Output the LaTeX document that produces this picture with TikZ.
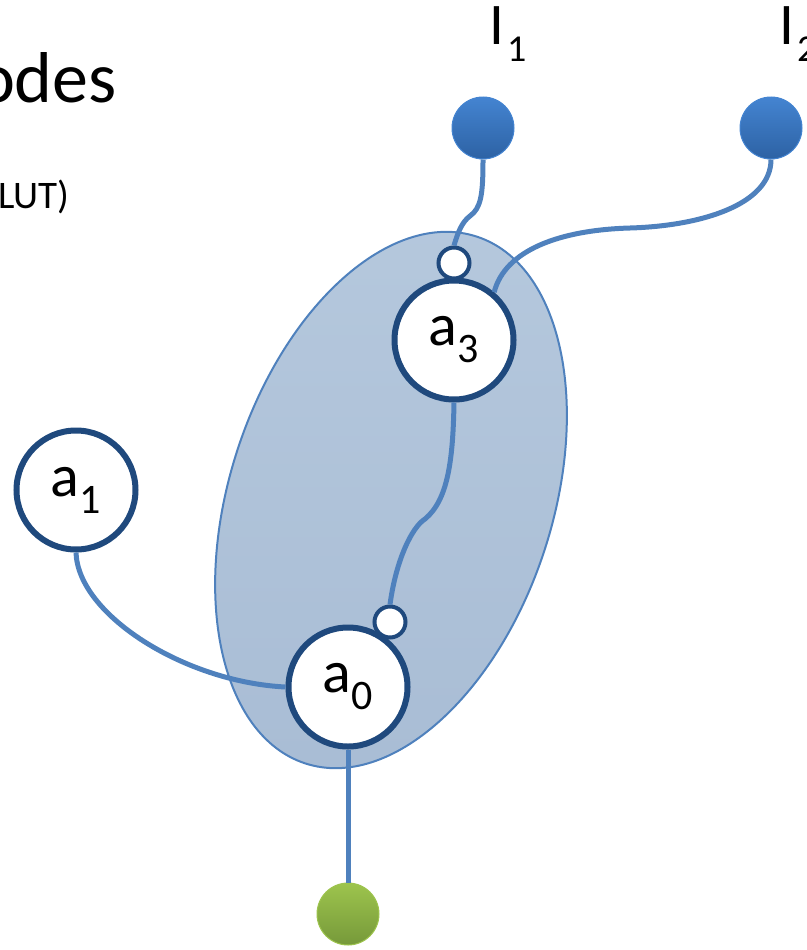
\documentclass[tikz,border=0pt]{standalone}
\usepackage{fontspec}
\setmainfont{Carlito}
\usetikzlibrary{shapes.geometric}

\definecolor{wirecol}{HTML}{4F81BD}
\definecolor{navy}{HTML}{1F497D}
\definecolor{lutfill}{HTML}{B5C8DD}
\definecolor{lutdark}{HTML}{A9BDD5}
\definecolor{intop}{HTML}{4484D1}
\definecolor{inbot}{HTML}{2D62A4}
\definecolor{outtop}{HTML}{9DC44D}
\definecolor{outbot}{HTML}{76993A}

\newcommand{\nodelabel}[3]{#1\raisebox{-17pt}{\fontsize{#3}{#3}\selectfont #2}}

\begin{document}
\begin{tikzpicture}[x=1pt,y=-1pt]
      \tikzstyle{gate} = [draw=navy,line width=6pt,circle,fill=white,inner sep=0pt,minimum size=119pt,font=\fontsize{60}{60}\selectfont]
      \tikzstyle{port} = [draw=navy,line width=4pt,circle,fill=white,inner sep=0pt,minimum size=31pt]
      \tikzstyle{input} = [circle,inner sep=0pt,minimum size=62pt,draw=intop,line width=1pt,top color=intop,bottom color=inbot]
      \tikzstyle{output} = [circle,inner sep=0pt,minimum size=62pt,draw=outtop,line width=1pt,top color=outtop,bottom color=outbot]
      \tikzstyle{link} = [draw=wirecol,line width=5pt]
      \useasboundingbox (0,0) rectangle (806,950);
      % title lines, cut at the left edge
      \node[anchor=base east,inner sep=0pt,font=\fontsize{72}{72}\selectfont] (title) at (117,102) {odes};
      \node[anchor=base east,inner sep=0pt,font=\fontsize{39}{39}\selectfont] (note) at (70,208) {LUT)};
      % the LUT
      \node[ellipse,draw=wirecol,line width=2pt,top color=lutfill,bottom color=lutdark,
        minimum width=323pt,minimum height=554pt,inner sep=0pt,rotate=-18] (lut) at (391,500) {};
      % inputs and output
      \node[input] (i1) at (483,128) {};
      \node[input] (i2) at (771,128) {};
      \node[output] (o) at (348,914) {};
      \foreach \n/\x in {1/489,2/779}{
        \node[anchor=base west,inner sep=0pt,font=\fontsize{59}{59}\selectfont] (l\n) at (\x,45) {\nodelabel{I\kern3pt}{\n}{38}};
      }
      % gates
      \foreach \n/\x/\y in {3/454/340,1/76/490,0/348/687}{
        \node[gate] (a\n) at (\x,\y) {\nodelabel{a}{\n}{42}};
      }
      \node[port] (p3) at (454,263) {};
      \node[port] (p0) at (390,622) {};
      % wires
      \path[link] (i1.south) .. controls (483,195) and (481,208) .. (470,216)
        .. controls (462,222) and (458,232) .. (p3.north);
      \path[link] (i2.south) .. controls (771,205) and (700,226) .. (630,228)
        .. controls (560,230) and (505,250) .. (a3.50);
      \path[link] (a3.south) .. controls (453,460) and (448,500) .. (425,519)
        .. controls (412,527) and (396,560) .. (p0.north);
      \path[link] (a1.south) .. controls (78,615) and (185,682) .. (a0.west);
      \path[link] (a0.south) -- (o.north);
    \end{tikzpicture}
\end{document}
